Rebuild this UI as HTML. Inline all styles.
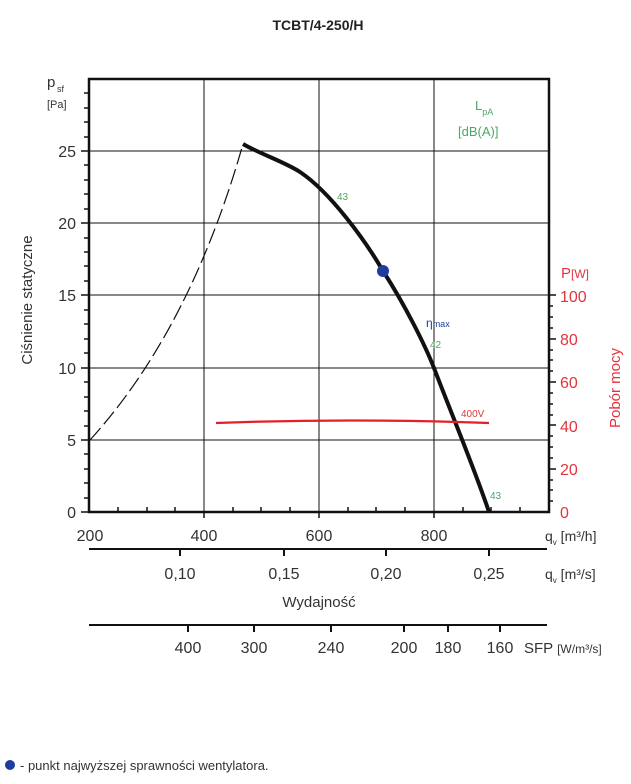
<!DOCTYPE html>
<html><head><meta charset="utf-8"><style>
body{margin:0;background:#fff;width:631px;height:779px;overflow:hidden}
text{font-family:"Liberation Sans",sans-serif}
</style></head><body>
<svg width="631" height="779" viewBox="0 0 631 779" xmlns="http://www.w3.org/2000/svg">
<text x="318" y="30" font-size="14" font-weight="bold" text-anchor="middle" fill="#222">TCBT/4-250/H</text>
<g stroke="#111" stroke-width="1">
<line x1="204" y1="79" x2="204" y2="512"/><line x1="319" y1="79" x2="319" y2="512"/><line x1="434" y1="79" x2="434" y2="512"/>
<line x1="89" y1="151" x2="549" y2="151"/><line x1="89" y1="223" x2="549" y2="223"/><line x1="89" y1="295" x2="549" y2="295"/><line x1="89" y1="368" x2="549" y2="368"/><line x1="89" y1="440" x2="549" y2="440"/>
</g>
<rect x="89" y="79" width="460" height="433" fill="none" stroke="#111" stroke-width="2.5"/>
<g stroke="#111" stroke-width="1.5">
<line x1="84" y1="93" x2="89" y2="93"/><line x1="84" y1="108" x2="89" y2="108"/><line x1="84" y1="122" x2="89" y2="122"/><line x1="84" y1="137" x2="89" y2="137"/><line x1="84" y1="165" x2="89" y2="165"/><line x1="84" y1="180" x2="89" y2="180"/><line x1="84" y1="194" x2="89" y2="194"/><line x1="84" y1="209" x2="89" y2="209"/><line x1="84" y1="238" x2="89" y2="238"/><line x1="84" y1="252" x2="89" y2="252"/><line x1="84" y1="266" x2="89" y2="266"/><line x1="84" y1="281" x2="89" y2="281"/><line x1="84" y1="310" x2="89" y2="310"/><line x1="84" y1="324" x2="89" y2="324"/><line x1="84" y1="339" x2="89" y2="339"/><line x1="84" y1="353" x2="89" y2="353"/><line x1="84" y1="382" x2="89" y2="382"/><line x1="84" y1="397" x2="89" y2="397"/><line x1="84" y1="411" x2="89" y2="411"/><line x1="84" y1="426" x2="89" y2="426"/><line x1="84" y1="454" x2="89" y2="454"/><line x1="84" y1="469" x2="89" y2="469"/><line x1="84" y1="483" x2="89" y2="483"/><line x1="84" y1="498" x2="89" y2="498"/>
<line x1="81" y1="151" x2="89" y2="151"/><line x1="81" y1="223" x2="89" y2="223"/><line x1="81" y1="295" x2="89" y2="295"/><line x1="81" y1="368" x2="89" y2="368"/><line x1="81" y1="440" x2="89" y2="440"/><line x1="81" y1="512" x2="89" y2="512"/>
<line x1="118" y1="507" x2="118" y2="512"/><line x1="147" y1="507" x2="147" y2="512"/><line x1="175" y1="507" x2="175" y2="512"/><line x1="233" y1="507" x2="233" y2="512"/><line x1="261" y1="507" x2="261" y2="512"/><line x1="290" y1="507" x2="290" y2="512"/><line x1="348" y1="507" x2="348" y2="512"/><line x1="376" y1="507" x2="376" y2="512"/><line x1="405" y1="507" x2="405" y2="512"/><line x1="463" y1="507" x2="463" y2="512"/><line x1="491" y1="507" x2="491" y2="512"/><line x1="520" y1="507" x2="520" y2="512"/>
<line x1="204" y1="512" x2="204" y2="518"/><line x1="319" y1="512" x2="319" y2="518"/><line x1="434" y1="512" x2="434" y2="518"/>
</g>
<g stroke="#111" stroke-width="1.5">
<line x1="549" y1="295" x2="556" y2="295"/><line x1="549" y1="339" x2="556" y2="339"/><line x1="549" y1="382" x2="556" y2="382"/><line x1="549" y1="425" x2="556" y2="425"/><line x1="549" y1="469" x2="556" y2="469"/>
<line x1="549" y1="306" x2="553" y2="306"/><line x1="549" y1="317" x2="553" y2="317"/><line x1="549" y1="328" x2="553" y2="328"/><line x1="549" y1="350" x2="553" y2="350"/><line x1="549" y1="360" x2="553" y2="360"/><line x1="549" y1="371" x2="553" y2="371"/><line x1="549" y1="393" x2="553" y2="393"/><line x1="549" y1="404" x2="553" y2="404"/><line x1="549" y1="415" x2="553" y2="415"/><line x1="549" y1="436" x2="553" y2="436"/><line x1="549" y1="447" x2="553" y2="447"/><line x1="549" y1="458" x2="553" y2="458"/><line x1="549" y1="480" x2="553" y2="480"/><line x1="549" y1="490" x2="553" y2="490"/><line x1="549" y1="501" x2="553" y2="501"/>
</g>
<g font-size="16" fill="#333" text-anchor="end">
<text x="76" y="157">25</text><text x="76" y="229">20</text><text x="76" y="301">15</text><text x="76" y="374">10</text><text x="76" y="446">5</text><text x="76" y="518">0</text>
</g>
<text x="47" y="87" font-size="15" fill="#333">p</text><text x="57" y="92" font-size="9" fill="#333">sf</text>
<text x="47" y="108" font-size="11" fill="#333">[Pa]</text>
<text transform="translate(32,300) rotate(-90)" font-size="15" fill="#333" text-anchor="middle">Ciśnienie statyczne</text>
<g font-size="16" fill="#e3343d">
<text x="561" y="278" font-size="15">P<tspan font-size="12">[W]</tspan></text>
<text x="560" y="302">100</text><text x="560" y="345">80</text><text x="560" y="388">60</text><text x="560" y="432">40</text><text x="560" y="475">20</text><text x="560" y="518">0</text>
</g>
<text transform="translate(620,388) rotate(-90)" font-size="15" fill="#e3343d" text-anchor="middle">Pobór mocy</text>
<g font-size="16" fill="#333" text-anchor="middle">
<text x="90" y="541">200</text><text x="204" y="541">400</text><text x="319" y="541">600</text><text x="434" y="541">800</text>
<text x="180" y="579">0,10</text><text x="284" y="579">0,15</text><text x="386" y="579">0,20</text><text x="489" y="579">0,25</text>
<text x="188" y="653">400</text><text x="254" y="653">300</text><text x="331" y="653">240</text><text x="404" y="653">200</text><text x="448" y="653">180</text><text x="500" y="653">160</text>
</g>
<text x="545" y="541" font-size="14" fill="#333">q<tspan font-size="8" dy="4">v</tspan><tspan dy="-4"> [m³/h]</tspan></text>
<text x="545" y="579" font-size="14" fill="#333">q<tspan font-size="8" dy="4">v</tspan><tspan dy="-4"> [m³/s]</tspan></text>
<text x="524" y="653" font-size="15" fill="#333">SFP <tspan font-size="12">[W/m³/s]</tspan></text>
<text x="319" y="607" font-size="15" fill="#333" text-anchor="middle">Wydajność</text>
<line x1="89" y1="549" x2="547" y2="549" stroke="#111" stroke-width="2"/>
<g stroke="#111" stroke-width="2"><line x1="180" y1="549" x2="180" y2="556"/><line x1="284" y1="549" x2="284" y2="556"/><line x1="386" y1="549" x2="386" y2="556"/><line x1="489" y1="549" x2="489" y2="556"/></g>
<line x1="89" y1="625" x2="547" y2="625" stroke="#111" stroke-width="2"/>
<g stroke="#111" stroke-width="2"><line x1="188" y1="625" x2="188" y2="632"/><line x1="254" y1="625" x2="254" y2="632"/><line x1="331" y1="625" x2="331" y2="632"/><line x1="404" y1="625" x2="404" y2="632"/><line x1="448" y1="625" x2="448" y2="632"/><line x1="500" y1="625" x2="500" y2="632"/></g>
<path d="M90,440 Q190,330 243,144" fill="none" stroke="#111" stroke-width="1.2" stroke-dasharray="16,5"/>
<path d="M243,144 C260,154 285,162 300,172 C330,192 365,240 383,271 C405,305 425,345 434,368 C450,410 475,470 489,512" fill="none" stroke="#111" stroke-width="4"/>
<path d="M216,423 Q350,418 489,423" fill="none" stroke="#e3202a" stroke-width="2.2"/>
<circle cx="383" cy="271" r="6" fill="#1f3d9e"/>
<g fill="#4aa860" font-size="10">
<text x="337" y="200">43</text><text x="430" y="348">42</text><text x="490" y="499">43</text>
<text x="475" y="110" font-size="13">L<tspan font-size="9" dy="5">pA</tspan></text>
<text x="458" y="136" font-size="13">[dB(A)]</text>
</g>
<text x="426" y="327" font-size="12" fill="#1f3d9e">η<tspan font-size="9">max</tspan></text>
<text x="461" y="417" font-size="10" fill="#e3343d">400V</text>
<circle cx="10" cy="765" r="5" fill="#1f3d9e"/>
<text x="20" y="770" font-size="13" fill="#333">- punkt najwyższej sprawności wentylatora.</text>
</svg>
</body></html>
